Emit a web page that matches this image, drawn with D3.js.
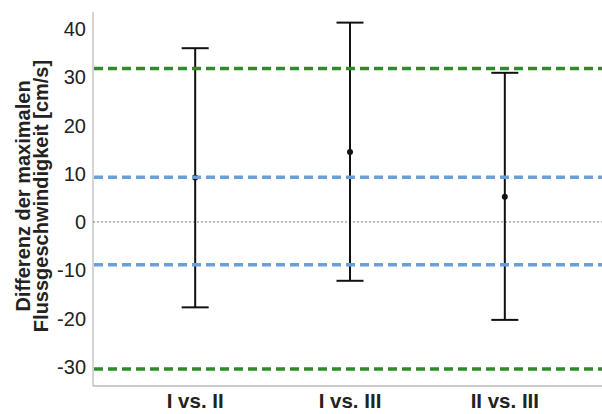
<!DOCTYPE html>
<html>
<head>
<meta charset="utf-8">
<script src="https://cdn.jsdelivr.net/npm/d3@7"></script>
<style>
  body { margin: 0; background: #fff; }
  text { font-family: "Liberation Sans", Arial, sans-serif; }
</style>
</head>
<body>
<svg id="chart" width="602" height="414"></svg>
<script>
// comparisons and their mean differences with limits
const comparisons = ["I vs. II", "I vs. III", "II vs. III"];
const means = [9.2, 14.5, 5.2];
const upper = [36.0, 41.3, 30.9];
const lower = [-17.7, -12.2, -20.3];

// reference lines
const outerLimits = [31.8, -30.5];
const innerLimits = [9.25, -8.9];
const yTicks = [-30, -20, -10, 0, 10, 20, 30, 40];

const svg = d3.select("#chart");
const plotLeft = 93, plotRight = 602, plotTop = 12, plotBottom = 386;

const y = d3.scaleLinear().domain([-34, 43.5]).range([plotBottom, plotTop]);
const x = d3.scalePoint().domain(comparisons).range([plotLeft, 607]).padding(0.66);

// y tick labels
svg.append("g")
    .selectAll("text")
    .data(yTicks)
    .enter().append("text")
    .attr("x", plotLeft - 7)
    .attr("y", d => y(d))
    .attr("dy", "0.36em")
    .attr("text-anchor", "end")
    .style("font-size", "20px")
    .style("fill", "#222")
    .text(d => d);

// axis lines
svg.append("line")
    .attr("x1", plotLeft).attr("x2", plotLeft)
    .attr("y1", plotTop).attr("y2", plotBottom)
    .attr("stroke", "#aaa").attr("stroke-width", 1);
svg.append("line")
    .attr("x1", plotLeft).attr("x2", plotRight)
    .attr("y1", plotBottom).attr("y2", plotBottom)
    .attr("stroke", "#bbb").attr("stroke-width", 1.5);

// zero line
svg.append("line")
    .attr("x1", plotLeft).attr("x2", plotRight)
    .attr("y1", y(0)).attr("y2", y(0))
    .attr("stroke", "#444").attr("stroke-width", 0.7)
    .attr("stroke-dasharray", "2,2");

// error bars
let bars = svg.append("g")
    .selectAll("g")
    .data(comparisons.map((c, i) => ({ c, m: means[i], hi: upper[i], lo: lower[i] })))
    .enter().append("g");

bars.append("line")
    .attr("x1", d => x(d.c)).attr("x2", d => x(d.c))
    .attr("y1", d => y(d.hi)).attr("y2", d => y(d.lo))
    .attr("stroke", "#111").attr("stroke-width", 2);
bars.append("line")
    .attr("x1", d => x(d.c) - 13.5).attr("x2", d => x(d.c) + 13.5)
    .attr("y1", d => y(d.hi)).attr("y2", d => y(d.hi))
    .attr("stroke", "#111").attr("stroke-width", 2);
bars.append("line")
    .attr("x1", d => x(d.c) - 13.5).attr("x2", d => x(d.c) + 13.5)
    .attr("y1", d => y(d.lo)).attr("y2", d => y(d.lo))
    .attr("stroke", "#111").attr("stroke-width", 2);
bars.append("circle")
    .attr("cx", d => x(d.c))
    .attr("cy", d => y(d.m))
    .attr("r", 3)
    .attr("fill", "#111");

// dashed limit lines
svg.append("g")
    .selectAll("line")
    .data(innerLimits)
    .enter().append("line")
    .attr("x1", plotLeft + 1).attr("x2", plotRight)
    .attr("y1", d => y(d)).attr("y2", d => y(d))
    .attr("stroke", "#6a9fd8").attr("stroke-width", 3.5)
    .attr("stroke-dasharray", "9,5");

svg.append("g")
    .selectAll("line")
    .data(outerLimits)
    .enter().append("line")
    .attr("x1", plotLeft + 1).attr("x2", plotRight)
    .attr("y1", d => y(d)).attr("y2", d => y(d))
    .attr("stroke", "#2f8a2a").attr("stroke-width", 3.5)
    .attr("stroke-dasharray", "9,5");

// x labels
svg.append("g")
    .selectAll("text")
    .data(comparisons)
    .enter().append("text")
    .attr("x", d => x(d))
    .attr("y", 408)
    .attr("text-anchor", "middle")
    .style("font-size", "20.5px")
    .style("font-weight", "bold")
    .style("fill", "#222")
    .text(d => d);

// y axis title
let title = svg.append("text")
    .attr("transform", "translate(0,196) rotate(-90)")
    .attr("text-anchor", "middle")
    .style("font-size", "20px")
    .style("font-weight", "bold")
    .style("fill", "#222");
title.append("tspan").attr("x", 0).attr("y", 30).text("Differenz der maximalen");
title.append("tspan").attr("x", 0).attr("y", 48).text("Flussgeschwindigkeit [cm/s]");
</script>
</body>
</html>
